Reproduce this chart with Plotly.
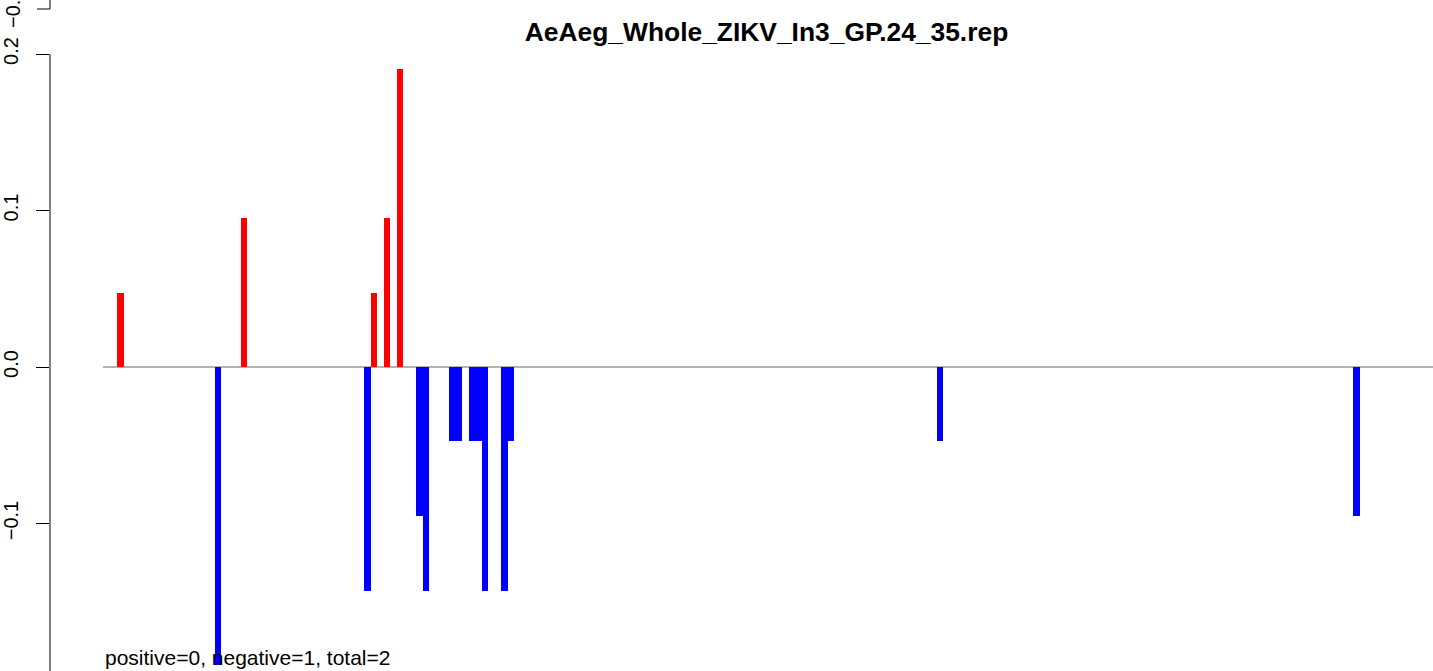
import plotly.graph_objects as go

# ---- data ----
title_text = "AeAeg_Whole_ZIKV_In3_GP.24_35.rep"
footer_text = "positive=0, negative=1, total=2"

pos_positions = [0, 19, 39, 41, 43]
pos_values = [0.0476, 0.0952, 0.0476, 0.0952, 0.1905]

neg_positions = [15, 38, 46, 47, 51, 52, 54, 55, 56, 59, 60, 126, 190]
neg_values = [-0.1905, -0.1429, -0.0952, -0.1429, -0.0476, -0.0476,
              -0.0476, -0.0476, -0.1429, -0.1429, -0.0476, -0.0476, -0.0952]

y_tick_vals = [-0.2, -0.1, 0.0, 0.1, 0.2]
y_tick_text = ["\u22120.2", "\u22120.1", "0.0", "0.1", "0.2"]
upper_panel_tick_text = "\u22120.2"

W, H = 1433, 671
FONT = "Liberation Sans, Arial, Helvetica, sans-serif"

fig = go.Figure()
fig.add_trace(go.Bar(x=pos_positions, y=pos_values, width=1,
                     marker=dict(color="#FF0000", line=dict(width=0)),
                     showlegend=False, hoverinfo="x+y"))
fig.add_trace(go.Bar(x=neg_positions, y=neg_values, width=1,
                     marker=dict(color="#0000FF", line=dict(width=0)),
                     showlegend=False, hoverinfo="x+y"))

shapes = [
    # zero line
    dict(type="line", xref="x", yref="y", x0=-2.7, x1=215, y0=0, y1=0,
         line=dict(color="#666666", width=1), layer="below"),
    # y axis line from first to last tick
    dict(type="line", xref="paper", yref="y", x0=0, x1=0, y0=-0.2, y1=0.2,
         line=dict(color="black", width=1)),
    # fragment of the panel above: axis end + tick
    dict(type="line", xref="paper", yref="paper", x0=0, x1=0,
         y0=1, y1=1 - 9 / H, line=dict(color="black", width=1)),
    dict(type="line", xref="paper", yref="paper", xsizemode="pixel", xanchor=0,
         x0=-13, x1=0, y0=1 - 9 / H, y1=1 - 9 / H,
         line=dict(color="black", width=1)),
]

annotations = [
    dict(text=footer_text, xref="paper", yref="paper",
         x=(103 - 50) / (W - 50), y=1 - 657 / H, xanchor="left", yanchor="middle",
         showarrow=False, font=dict(family=FONT, size=21, color="black")),
    dict(text=upper_panel_tick_text, xref="paper", yref="paper",
         x=0, xshift=-37, y=1 - 9 / H, xanchor="center", yanchor="middle",
         textangle=-90, showarrow=False,
         font=dict(family=FONT, size=20, color="black")),
]

fig.update_layout(
    width=W, height=H,
    margin=dict(l=50, r=0, t=0, b=0, pad=0),
    paper_bgcolor="white", plot_bgcolor="white",
    bargap=0,
    title=dict(text="<b>" + title_text + "</b>", xref="container", yref="container",
               x=766.5 / W, y=1 - 32 / H, xanchor="center", yanchor="middle",
               font=dict(family=FONT, size=26.4, color="black")),
    xaxis=dict(range=[-70.5 / 6.505, (W - 120.5) / 6.505], visible=False,
               showgrid=False, zeroline=False),
    yaxis=dict(range=[-(H - 367) / 1565.0, 367 / 1565.0],
               tickmode="array", tickvals=y_tick_vals, ticktext=y_tick_text,
               ticks="outside", ticklen=13, tickwidth=1, tickcolor="black",
               tickangle=-90, ticklabelstandoff=10,
               tickfont=dict(family=FONT, size=20, color="black"),
               showline=False, showgrid=False, zeroline=False),
    shapes=shapes,
    annotations=annotations,
)

fig.write_html("out.html", config={"displayModeBar": False},
               post_script="document.body.style.margin='0';document.body.style.overflow='hidden';")
